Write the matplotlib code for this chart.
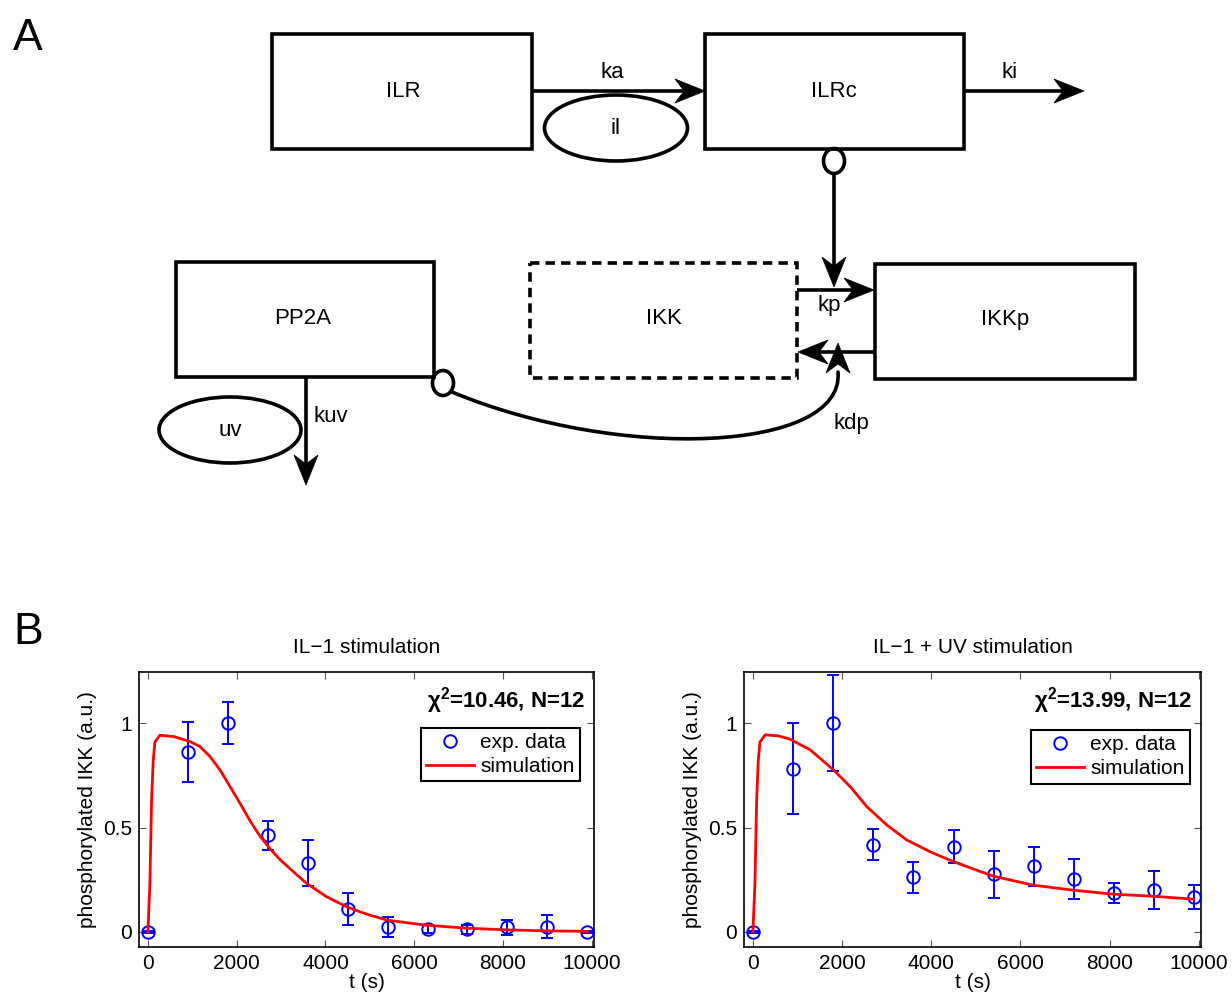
import numpy as np
import matplotlib
matplotlib.use("Agg")
import matplotlib.pyplot as plt
from matplotlib.patches import Rectangle, Ellipse, Polygon, FancyArrowPatch
from matplotlib.path import Path

plt.rcParams['font.family'] = ['Liberation Sans', 'DejaVu Sans']
plt.rcParams['mathtext.fontset'] = 'custom'
plt.rcParams['mathtext.rm'] = 'Liberation Sans'
plt.rcParams['mathtext.it'] = 'Liberation Sans:italic'
plt.rcParams['mathtext.bf'] = 'Liberation Sans:bold'

# data
t_data = [0, 900, 1800, 2700, 3600, 4500, 5400, 6300, 7200, 8100, 9000, 9900]

il1_data = [0, 0.862, 1.0, 0.462, 0.331, 0.112, 0.024, 0.014, 0.013, 0.022, 0.026, 0.0]
il1_err = [0.005, 0.144, 0.1, 0.07, 0.11, 0.077, 0.048, 0.02, 0.022, 0.035, 0.056, 0.005]

uv_data = [0, 0.781, 1.0, 0.418, 0.262, 0.408, 0.277, 0.314, 0.254, 0.187, 0.202, 0.168]
uv_err = [0.005, 0.218, 0.23, 0.073, 0.074, 0.078, 0.112, 0.093, 0.095, 0.047, 0.091, 0.059]

t_sim_il1 = [0, 45, 83, 120, 158, 271, 572, 948, 1173, 1399, 1625, 1851, 2076, 2302,
             2528, 2754, 2979, 3280, 3580, 4031, 4482, 4785, 5009, 5402, 6290, 7193,
             8096, 8999, 9902]
sim_il1 = [0, 0.23, 0.63, 0.82, 0.91, 0.942, 0.936, 0.912, 0.888, 0.84, 0.776, 0.696, 0.616,
           0.532, 0.458, 0.398, 0.346, 0.288, 0.232, 0.168, 0.12, 0.096, 0.08, 0.056, 0.032,
           0.018, 0.01, 0.005, 0.003]

t_sim_uv = [0, 45, 83, 120, 158, 276, 575, 836, 1285, 1808, 2182, 2556, 3004, 3453,
            3976, 4425, 4990, 5395, 6292, 7189, 8086, 8983, 9880]
sim_uv = [0, 0.23, 0.63, 0.82, 0.91, 0.944, 0.939, 0.923, 0.872, 0.776, 0.696, 0.6, 0.512,
          0.44, 0.384, 0.343, 0.298, 0.267, 0.224, 0.2, 0.181, 0.171, 0.157]

titles = ["IL\u22121 stimulation", "IL\u22121 + UV stimulation"]
chi_labels = [r"$\mathregular{\chi^2}$=10.46, N=12", r"$\mathregular{\chi^2}$=13.99, N=12"]

fig = plt.figure(figsize=(12.32, 10.02), dpi=100)

# ---- panel A: the scheme, drawn in pixel coordinates ----
d = fig.add_axes([0, 0, 1, 1])
d.set_xlim(0, 1232)
d.set_ylim(1002, 0)
d.axis('off')

LW = 2.6


def box(x0, y0, x1, y1, dashed=False):
    ls = (0, (2.6, 1.7)) if dashed else '-'
    d.add_patch(Rectangle((x0, y0), x1 - x0, y1 - y0, fill=False, lw=LW, ls=ls,
                          ec='black', joinstyle='miter'))


def head(tip, direction, L=30, W=12, notch=9):
    # stealth-like arrow head
    tx, ty = tip
    ux, uy = direction
    n = np.hypot(ux, uy)
    ux, uy = ux / n, uy / n
    px, py = -uy, ux
    bx, by = tx - ux * L, ty - uy * L
    pts = [(tx, ty), (bx + px * W, by + py * W), (tx - ux * (L - notch), ty - uy * (L - notch)),
           (bx - px * W, by - py * W)]
    d.add_patch(Polygon(pts, closed=True, fc='black', ec='black', lw=0.5))


def arrow(x0, y0, x1, y1):
    d.plot([x0, x1 - (x1 - x0) * 0.05], [y0, y1 - (y1 - y0) * 0.05], color='black', lw=LW,
           solid_capstyle='butt')
    head((x1, y1), (x1 - x0, y1 - y0))


def label(x, y, s, size=16):
    d.text(x, y, s, ha='center', va='center', fontsize=size)


box(272, 34, 532, 149)
box(705, 34, 964, 149)
box(176, 262, 434, 377)
box(530, 263, 797, 378, dashed=True)
box(875, 264, 1135, 379)

label(403, 91, "ILR")
label(834, 91, "ILRc")
label(303, 318, "PP2A")
label(664, 318, "IKK")
label(1005, 320, "IKKp")

d.add_patch(Ellipse((616, 128), 143, 66, fill=False, lw=LW, ec='black'))
label(616, 128, "il")
d.add_patch(Ellipse((230, 430), 142, 66, fill=False, lw=LW, ec='black'))
label(230, 430, "uv")

arrow(532, 91, 705, 91)
label(612, 72, "ka")
arrow(964, 91, 1084, 91)
label(1010, 72, "ki")

# ILRc -> kp (modifier)
d.add_patch(Ellipse((834, 161), 21, 25, fill=False, lw=LW, ec='black'))
arrow(834, 174, 834, 287)

arrow(797, 290, 874, 290)
label(829, 306, "kp")
arrow(875, 352, 798, 352)

arrow(306, 377, 306, 485)
label(331, 416, "kuv")

# PP2A -> kdp (modifier)
d.add_patch(Ellipse((443, 383), 21, 25, fill=False, lw=LW, ec='black'))
verts = [(452, 392), (620, 462), (845, 452), (838, 372)]
d.add_patch(FancyArrowPatch(path=Path(verts, [Path.MOVETO, Path.CURVE4, Path.CURVE4, Path.CURVE4]),
                            arrowstyle='-', lw=LW, color='black'))
head((838, 343), (0, -1))
label(851, 423, "kdp")

d.text(28, 38, "A", fontsize=32, ha='center', va='center')
d.text(28, 632, "B", fontsize=32, ha='center', va='center')

# ---- panel B: the two fits ----
positions = [[139 / 1232, 55 / 1002, 455 / 1232, 275 / 1002],
             [744 / 1232, 55 / 1002, 457 / 1232, 275 / 1002]]
data_sets = [(il1_data, il1_err, t_sim_il1, sim_il1), (uv_data, uv_err, t_sim_uv, sim_uv)]
legend_anchor = [(0.969, 0.797), (0.976, 0.789)]

for i in range(2):
    ax = fig.add_axes(positions[i])
    y, e, ts, ys = data_sets[i]
    ax.errorbar(t_data, y, yerr=e, fmt='none', ecolor='blue', elinewidth=1.4,
                capsize=4.5, capthick=1.4, zorder=2)
    ax.plot(t_data, y, 'o', mfc='none', mec='blue', ms=9, mew=1.4, zorder=3, label="exp. data")
    ax.plot(ts, ys, color='red', lw=2, zorder=4, label="simulation")
    ax.set_xlim(-200, 10050)
    ax.set_ylim(-0.072, 1.245)
    ax.set_xticks([0, 2000, 4000, 6000, 8000, 10000])
    ax.set_yticks([0, 0.5, 1])
    ax.set_yticklabels(["0", "0.5", "1"])
    ax.tick_params(direction='in', top=True, right=True, labelsize=15, length=5,
                   width=0.8, color='#555555', pad=5)
    for s in ax.spines.values():
        s.set_linewidth(1.2)
    ax.set_xlabel("t (s)", fontsize=15, labelpad=0)
    ax.set_ylabel("phosphorylated IKK (a.u.)", fontsize=15, labelpad=4)
    ax.set_title(titles[i], fontsize=15, pad=14)
    ax.text(0.98, 0.895, chi_labels[i], transform=ax.transAxes, ha='right', va='center',
            fontsize=16, fontweight='bold')
    leg = ax.legend(loc='upper right', bbox_to_anchor=legend_anchor[i], fontsize=15,
                    fancybox=False, framealpha=1, edgecolor='black', borderpad=0.25,
                    labelspacing=0.25, handlelength=2.3, handletextpad=0.3, borderaxespad=0)
    leg.get_frame().set_linewidth(1.5)

fig.savefig("out.png", dpi=100)
